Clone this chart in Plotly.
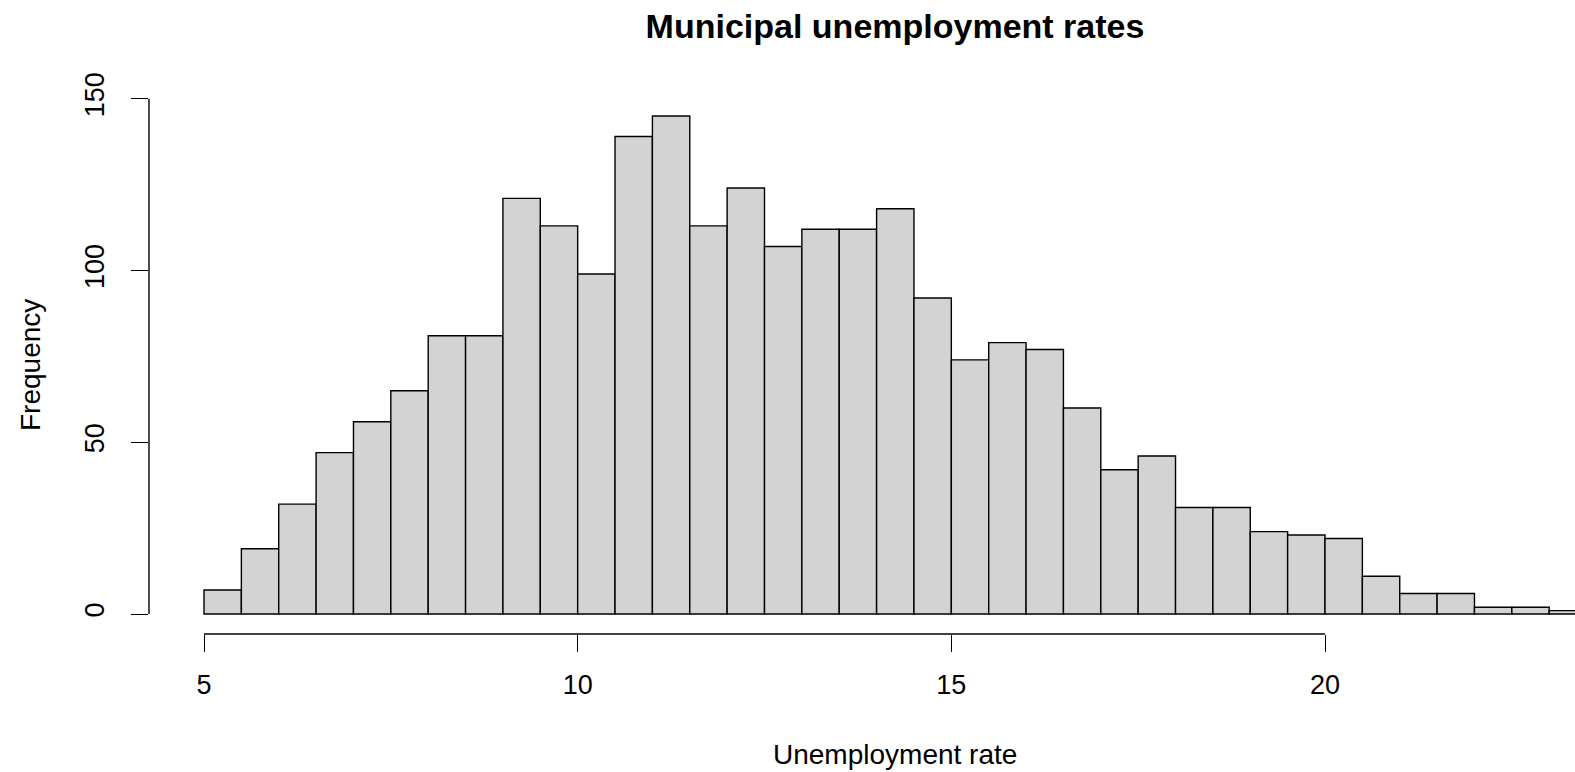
import plotly.graph_objects as go

# Histogram of municipal unemployment rates (bins of width 0.5, starting at 5)
bin_start = 5.0
bin_width = 0.5
counts = [7, 19, 32, 47, 56, 65, 81, 81, 121, 113, 99, 139, 145, 113, 124, 107,
          112, 112, 118, 92, 74, 79, 77, 60, 42, 46, 31, 31, 24, 23, 22, 11,
          6, 6, 2, 2, 1]
x_ticks = [5, 10, 15, 20]
y_ticks = [0, 50, 100, 150]

lefts = [bin_start + i * bin_width for i in range(len(counts))]
centers = [l + bin_width / 2 for l in lefts]

W, H = 1575, 772
plot_left, plot_right = 149, 1575
plot_top, plot_bottom = 96, 634
FONT = "Liberation Sans, Arial, sans-serif"

fig = go.Figure()
fig.add_trace(go.Bar(
    x=centers, y=counts, width=[bin_width] * len(counts),
    marker=dict(color="#D3D3D3", line=dict(color="black", width=1.4)),
    hoverinfo="x+y",
))

# axis ranges with R-style 4% padding
px_per_x = (1325 - 204) / (x_ticks[-1] - x_ticks[0])
x_lo = x_ticks[0] - (204 - plot_left) / px_per_x
x_hi = x_ticks[0] + (plot_right - 204) / px_per_x
y_lo, y_hi = -5.8, 150.8

fig.update_layout(
    width=W, height=H,
    margin=dict(l=plot_left, r=W - plot_right, t=plot_top, b=H - plot_bottom),
    paper_bgcolor="white", plot_bgcolor="white",
    showlegend=False,
    font=dict(family=FONT, color="black", size=27),
    title=dict(text="<b>Municipal unemployment rates</b>", x=895 / W, xanchor="center",
               xref="container", y=1 - 26 / H, yref="container", yanchor="middle",
               font=dict(size=34, family=FONT, color="black")),
    xaxis=dict(range=[x_lo, x_hi], tickvals=x_ticks, ticks="outside", ticklen=17,
               tickwidth=1.4, tickcolor="black", showline=False, showgrid=False,
               zeroline=False, tickfont=dict(size=27), ticklabelstandoff=10),
    yaxis=dict(range=[y_lo, y_hi], tickvals=y_ticks, ticks="outside", ticklen=17,
               tickwidth=1.4, tickcolor="black", showline=False, showgrid=False,
               zeroline=False, tickangle=-90, tickfont=dict(size=27), ticklabelstandoff=16),
    shapes=[
        dict(type="line", xref="x", yref="paper", x0=x_ticks[0], x1=x_ticks[-1], y0=0, y1=0,
             line=dict(color="black", width=1.4)),
        dict(type="line", xref="paper", yref="y", x0=0, x1=0, y0=y_ticks[0], y1=y_ticks[-1],
             line=dict(color="black", width=1.4)),
    ],
    annotations=[
        dict(text="Unemployment rate", xref="paper", yref="paper",
             x=(895 - plot_left) / (plot_right - plot_left),
             y=(plot_bottom - 754) / (plot_bottom - plot_top),
             xanchor="center", yanchor="middle", showarrow=False, font=dict(size=28)),
        dict(text="Frequency", xref="paper", yref="paper",
             x=(30 - plot_left) / (plot_right - plot_left), y=0.5, textangle=-90,
             xanchor="center", yanchor="middle", showarrow=False, font=dict(size=28)),
    ],
)

fig.write_html("out.html")
